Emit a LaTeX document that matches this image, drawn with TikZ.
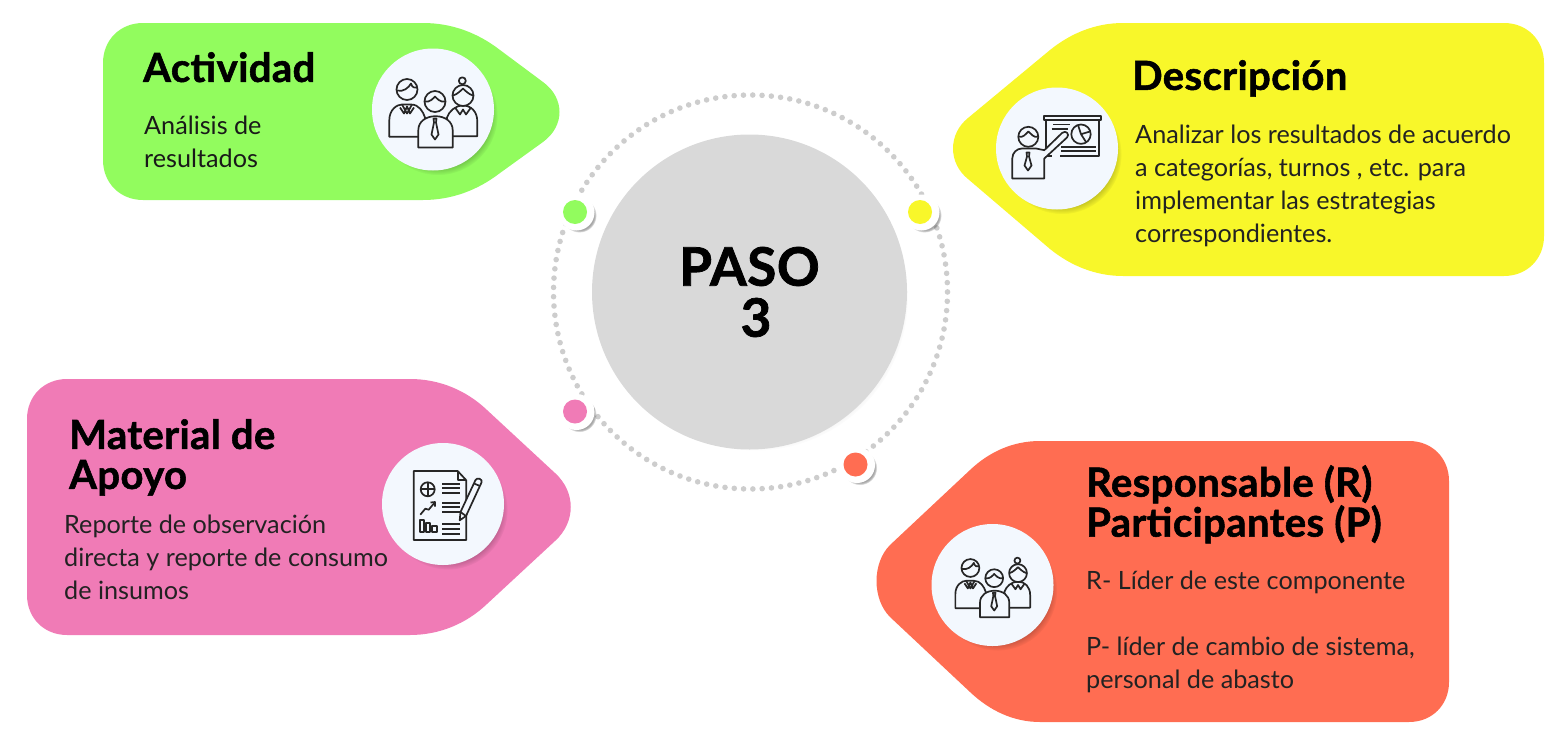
\documentclass[tikz,border=0pt]{standalone}
\usepackage{fontspec}
\usepackage{tikz}
\usetikzlibrary{shadows}
\setmainfont{Lato}
\newfontfamily\headfont[BoldFeatures={FakeBold=1.4}, LetterSpace=1]{Lato}
\definecolor{mygreen}{RGB}{146,252,94}
\definecolor{myyellow}{RGB}{248,247,42}
\definecolor{mypink}{RGB}{240,123,182}
\definecolor{myorange}{RGB}{255,109,82}
\definecolor{mygrey}{RGB}{217,217,217}
\definecolor{ringgrey}{RGB}{205,205,205}
\definecolor{iconbg}{RGB}{243,248,254}
\definecolor{bodytext}{RGB}{34,34,34}

\tikzset{
    pics/people/.style={code={
        % left man
        \draw[icon_line, fill=iconbg] (-43.7,27.3) -- (-43.7,10.7) .. controls (-43.7,0) and (-36,-5) .. (-31,-5) -- (-22,-5) .. controls (-14,-5) and (-10,2) .. (-8,8) -- (-8,27.3) -- cycle;
        \draw[icon_line, fill=iconbg] (-26,-20) circle (10.5);
        \draw[icon_line] (-36,-19) .. controls (-30,-17) and (-24,-22) .. (-22,-26) .. controls (-21,-22) and (-18,-21) .. (-16,-22);
        \draw[icon_line] (-31,-5) -- (-26,4) -- (-21,-5) (-33,-2) -- (-29,4) -- (-26,-3) -- (-23,4) -- (-19,-2);
        % right woman
        \draw[icon_line, fill=iconbg] (44.3,26.7) -- (44.3,12) .. controls (44.3,2) and (38,-4) .. (30,-4) .. controls (22,-4) and (16,2) .. (14,8) -- (14,26.7) -- cycle;
        \draw[icon_line, fill=iconbg] (30,-14) circle (10.5);
        \draw[icon_line, fill=iconbg] (29.3,-28.7) circle (3.5);
        \draw[icon_line] (20,-14) .. controls (24,-15) and (28,-19) .. (30,-21) .. controls (32,-19) and (36,-15) .. (40,-14);
        \draw[icon_line] (22,-2) -- (27,5) -- (30,0) -- (33,5) -- (38,-2);
        % middle man
        \draw[icon_line, fill=iconbg] (-14.7,38) -- (-14.7,20.7) .. controls (-14.7,12) and (-7,6.7) .. (2.5,6.7) .. controls (12,6.7) and (19.7,12) .. (19.7,20.7) -- (19.7,38) -- cycle;
        \draw[icon_line, fill=iconbg] (2,-8) circle (10.5);
        \draw[icon_line] (-8,-8) .. controls (-3,-7) and (0,-11) .. (2,-13) .. controls (4,-11) and (7,-7) .. (12,-8);
        \draw[icon_line] (0.5,9) -- (3.5,9) -- (3,13) -- (5.5,25) -- (2,30) -- (-1.5,25) -- (1,13) -- cycle;
    }},
    pics/presenter/.style={code={
        % board
        \draw[icon_line] (-13,-32.3) rectangle (44,-28.3);
        \draw[icon_line] (-11.3,-28.3) -- (-11.3,7.7) -- (-5,7.7) (3,7.7) -- (42.3,7.7) -- (42.3,-28.3);
        \draw[icon_line] (-3.7,-24) -- (13,-24) (-5.3,-19.7) -- (11.3,-19.7);
        \draw[icon_line] (24,-14.3) circle (9.7);
        \draw[icon_line] (21,-23.5) -- (24,-14.3) -- (33,-17) (24,-14.3) -- (29,-6.5);
        \draw[icon_line] (4,-1.7) -- (38.7,-1.7) (4,2.3) -- (38.7,2.3);
        % man
        \draw[icon_line, fill=iconbg] (-44.7,30) -- (-44.7,10) .. controls (-44.7,4) and (-40,0) .. (-35,0) -- (-21,0) -- (-12.7,1.7) -- (5,-15.5) .. controls (9,-19) and (13,-14) .. (10,-11) -- (-12.7,10) -- (-12.7,30) -- cycle;
        \draw[icon_line, fill=iconbg] (-28.7,-11.7) circle (10);
        \draw[icon_line] (-38.5,-12) .. controls (-34,-10) and (-31,-15) .. (-28.7,-17) .. controls (-26,-15) and (-23,-10) .. (-19,-12);
        \draw[icon_line] (-30.5,4) -- (-27.5,4) -- (-28,8) -- (-25.5,17) -- (-29,22) -- (-32.5,17) -- (-30,8) -- cycle;
    }},
    pics/report/.style={code={
        % page
        \draw[icon_line] (-29.3,-33) -- (14.7,-33) -- (23.3,-23.7) -- (23.3,36) -- (-29.3,36) -- cycle;
        \draw[icon_line] (14.7,-33) -- (14.7,-23.7) -- (23.3,-23.7);
        \draw[icon_line] (-15.3,-14.7) circle (7);
        \draw[icon_line] (-22.3,-14.7) -- (-8.3,-14.7) (-15.3,-21.7) -- (-15.3,-7.7);
        % text lines
        \foreach \ypos in {-20.3,-15.7,-11,-1.3,3.3,8,19.7,24.7,29.7} {
            \draw[icon_line] (-1,\ypos) -- (16.7,\ypos);
        }
        % small chart
        \draw[icon_line] (-22.7,10.7) -- (-17.7,4.7) -- (-14.3,5.7) -- (-8.7,-1);
        \draw[icon_line] (-12.5,-1.5) -- (-8,-2) -- (-8,2.5);
        \draw[icon_line] (-22.7,15.7) rectangle (-18.7,28);
        \draw[icon_line] (-16.7,19) rectangle (-12.7,28);
        \draw[icon_line] (-10.7,22.3) rectangle (-6,28);
        % pencil
        \draw[icon_line, fill=iconbg] (16.7,16.3) -- (17.5,8) -- (32.5,-24) .. controls (34,-27) and (40,-25) .. (38.5,-21.5) -- (23,12) -- cycle;
        \draw[icon_line] (17.5,8) -- (23,12) (31,-20.5) -- (37,-18);
    }}
}

\begin{document}
\begin{tikzpicture}[
    x=1pt, y=-1pt,
    icon_line/.style={draw=black!85, line width=1.7pt, line join=round},
    icon_disc/.style={circle, fill=iconbg, minimum size=122pt, inner sep=0pt,
        circular drop shadow={shadow xshift=5pt, shadow yshift=-6pt, shadow scale=0.98, opacity=0.25, fill=black}},
    ring_dot/.style={circle, fill=white, minimum size=36pt, inner sep=0pt,
        circular drop shadow={shadow xshift=3pt, shadow yshift=-3pt, shadow scale=0.96, opacity=0.35, fill=black}},
    color_dot/.style={circle, minimum size=24pt, inner sep=0pt},
    title_text/.style={anchor=north west, inner sep=0pt, align=left, text=black, font=\headfont\fontsize{40}{40}\selectfont\bfseries},
    body_text/.style={anchor=north west, inner sep=0pt, align=left, text=bodytext, font=\fontsize{25.2}{33}\selectfont}
]
    \useasboundingbox (0,0) rectangle (1568,744);

    % Coloured tags
    \fill[mygreen] (143,23) -- (423,23) .. controls (452,23) and (478,33) .. (500,50) -- (543,82)
        .. controls (565,98) and (565,126) .. (543,142) -- (500,173)
        .. controls (478,190) and (452,200) .. (423,200) -- (143,200)
        .. controls (120,200) and (103,183) .. (103,160) -- (103,63)
        .. controls (103,40) and (120,23) .. (143,23) -- cycle;
    \fill[myyellow] (1504,23) -- (1123,23) .. controls (1096,23) and (1071,33) .. (1050,50) -- (968,118)
        .. controls (948,134) and (948,163) .. (968,179) -- (1050,249)
        .. controls (1071,266) and (1096,276) .. (1123,276) -- (1504,276)
        .. controls (1527,276) and (1544,259) .. (1544,236) -- (1544,63)
        .. controls (1544,40) and (1527,23) .. (1504,23) -- cycle;
    \fill[mypink] (67,379) -- (410,379) .. controls (439,379) and (466,390) .. (487,410) -- (555,473)
        .. controls (576,492) and (576,522) .. (555,541) -- (487,604)
        .. controls (466,624) and (439,635) .. (410,635) -- (67,635)
        .. controls (44,635) and (27,618) .. (27,595) -- (27,419)
        .. controls (27,396) and (44,379) .. (67,379) -- cycle;
    \fill[myorange] (1409,441) -- (1040,441) .. controls (1014,441) and (990,451) .. (970,470) -- (890,545)
        .. controls (872,563) and (872,599) .. (890,617) -- (970,692)
        .. controls (990,711) and (1014,722) .. (1040,722) -- (1409,722)
        .. controls (1432,722) and (1449,705) .. (1449,682) -- (1449,481)
        .. controls (1449,458) and (1432,441) .. (1409,441) -- cycle;

    % Dotted ring and central circle
    \node[circle, minimum size=394pt, inner sep=0pt] (ring) at (750.5,292) {};
    \draw[ringgrey, line width=5.6pt, line cap=round, dash pattern=on 0pt off 9.307pt] (ring.center) circle (197);
    \node[circle, fill=mygrey, minimum size=315pt, inner sep=0pt, align=center,
        font=\headfont\fontsize{53}{51}\selectfont\bfseries, text=black,
        circular drop shadow={shadow xshift=6pt, shadow yshift=-6pt, shadow scale=0.97, opacity=0.16, fill=black}] (paso) at (749.5,292) {PASO\\\hspace*{13pt}3};

    % Dots on the ring
    \node[ring_dot] (dot_actividad) at (576.5,212.5) {};
    \node[color_dot, fill=mygreen] at (dot_actividad.center) [xshift=-1.5pt, yshift=0.5pt] (dot_actividad_in) {};
    \node[ring_dot] (dot_descripcion) at (921.5,212.5) {};
    \node[color_dot, fill=myyellow] at (dot_descripcion.center) [xshift=-1.5pt, yshift=0.5pt] (dot_descripcion_in) {};
    \node[ring_dot] (dot_material) at (576.5,412) {};
    \node[color_dot, fill=mypink] at (dot_material.center) [xshift=-1.5pt, yshift=0.5pt] (dot_material_in) {};
    \node[ring_dot] (dot_responsable) at (857,465) {};
    \node[color_dot, fill=myorange] at (dot_responsable.center) [xshift=-1.5pt, yshift=0.5pt] (dot_responsable_in) {};

    % Icon discs
    \node[icon_disc] (disc_actividad) at (433,109.5) {};
    \pic at (disc_actividad.center) {people};
    \node[icon_disc] (disc_descripcion) at (1057,148.5) {};
    \pic at (disc_descripcion.center) {presenter};
    \node[icon_disc] (disc_material) at (443,504) {};
    \pic at (disc_material.center) {report};
    \node[icon_disc] (disc_responsable) at (992.5,585) {};
    \pic[scale=0.85] at (disc_responsable.center) {people};

    % Texts
    \node[title_text] (title_actividad) at (143,52) {Actividad};
    \node[body_text, text=black!90] (body_actividad) at (144,116) {Análisis de\\resultados};

    \node[title_text] (title_descripcion) at (1132,60) {Descripción};
    \node[body_text] (body_descripcion) at (1135,125) {Analizar los resultados de acuerdo\\a categorías, turnos , etc. para\\implementar las estrategias\\correspondientes.};

    \node[title_text] (title_material) at (69,419) {Material de\\Apoyo};
    \node[body_text] (body_material) at (64,515) {Reporte de observación\\directa y reporte de consumo\\de insumos};

    \node[title_text] (title_responsable) at (1086,465) {Responsable (R)\\Participantes (P)};
    \node[body_text] (body_responsable) at (1086,571) {R- Líder de este componente\\[33pt]P- líder de cambio de sistema,\\personal de abasto};

\end{tikzpicture}
\end{document}
